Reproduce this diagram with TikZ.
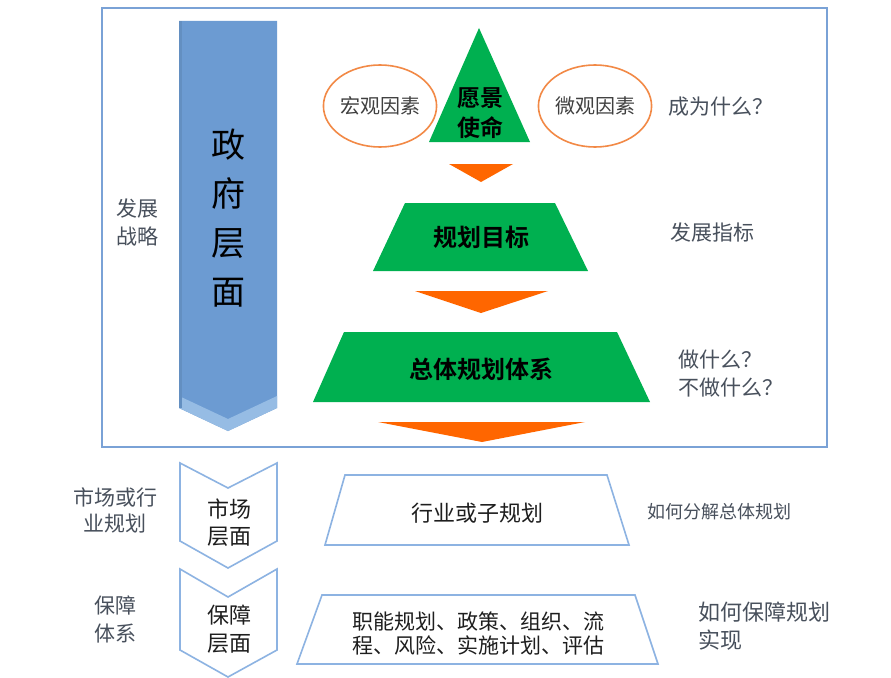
\documentclass[tikz,border=0pt]{standalone}
\usepackage{fontspec}
\newfontfamily\cjk{Noto Sans CJK SC}
\newfontfamily\cjkb{Noto Sans CJK SC Bold}
\definecolor{framebl}{RGB}{122,162,214}
\definecolor{arrowbl}{RGB}{108,155,210}
\definecolor{arrowlt}{RGB}{150,188,228}
\definecolor{lineblue}{RGB}{141,179,226}
\definecolor{pgreen}{RGB}{0,176,80}
\definecolor{porange}{RGB}{255,102,0}
\definecolor{eorange}{RGB}{242,137,70}
\definecolor{sidegray}{RGB}{72,80,92}
\definecolor{dark}{RGB}{30,30,30}
\tikzset{
  frameline/.style={draw=framebl, line width=2.2pt},
  greenshape/.style={fill=pgreen, draw=none},
  orangetri/.style={fill=porange, draw=none},
  outlineshape/.style={draw=lineblue, line width=1.6pt, line join=miter},
  factor/.style={draw=eorange, line width=1.6pt, ellipse, minimum width=106pt, minimum height=82pt, inner sep=0pt, font=\cjk\fontsize{20}{24}\selectfont, text=black!75},
  sidetext/.style={font=\cjk\fontsize{21}{28}\selectfont, text=sidegray, inner sep=0pt, align=left},
  greentext/.style={text=black, inner sep=0pt, align=center},
  boxtext/.style={font=\cjk\fontsize{22}{24}\selectfont, text=dark, inner sep=0pt, align=center},
}
\usetikzlibrary{shapes.geometric}
\begin{document}
\begin{tikzpicture}[x=1pt,y=-1pt]
\useasboundingbox (0,0) rectangle (891,677);
\fill[white] (0,0) rectangle (891,677);
% outer frame
\draw[frameline] (102,8) rectangle (827,447);
% government arrow
\fill[arrowbl] (179,21) -- (277,21) -- (277,408) -- (228,431) -- (179,408) -- cycle;
\fill[arrowlt] (179,396) -- (228,419) -- (277,396) -- (277,408) -- (228,431) -- (179,408) -- cycle;
\fill[arrowbl!92!black] (179,21) rectangle (182,408);
\node[font=\cjk\fontsize{34}{49}\selectfont, text=black, align=center, inner sep=0pt] (gov) at (228,218) {政\\府\\层\\面};
% pyramid
\fill[greenshape] (479,28) -- (530,142) -- (429,142) -- cycle;
\node[greentext, font=\cjkb\fontsize{23}{30}\selectfont] (vision) at (480,113) {愿景\\使命};
\fill[orangetri] (449,164) -- (513,164) -- (481,182) -- cycle;
\fill[greenshape] (405,203) -- (555,203) -- (588,271) -- (373,271) -- cycle;
\node[greentext, font=\cjkb\fontsize{24}{28}\selectfont] (goal) at (481,237) {规划目标};
\fill[orangetri] (415,291) -- (548,291) -- (481,313) -- cycle;
\fill[greenshape] (344,332) -- (617,332) -- (650,402) -- (313,402) -- cycle;
\node[greentext, font=\cjkb\fontsize{24}{28}\selectfont] (system) at (481,369) {总体规划体系};
\fill[orangetri] (378,422) -- (585,422) -- (482,442) -- cycle;
% factors
\node[factor] (macro) at (380,106) {宏观因素};
\node[factor] (micro) at (595,106) {微观因素};
% right texts
\node[sidetext, anchor=west] (become) at (668,107) {成为什么？};
\node[sidetext, anchor=west] (index) at (670,233) {发展指标};
\node[sidetext, anchor=west] (dowhat) at (678,374) {做什么？\\不做什么？};
\node[sidetext, anchor=west, font=\cjk\fontsize{18}{24}\selectfont] (split) at (647,512) {如何分解总体规划};
\node[sidetext, anchor=west, font=\cjk\fontsize{22}{28}\selectfont] (ensure) at (698,626) {如何保障规划\\实现};
% left texts
\node[sidetext, align=center] (strategy) at (137,222) {发展\\战略};
\node[sidetext, align=center, font=\cjk\fontsize{21}{26}\selectfont] (industry) at (115,510) {市场或行\\业规划};
\node[sidetext, align=center] (support) at (115,619) {保障\\体系};
% lower chevrons
\draw[outlineshape] (180,463) -- (228,488) -- (277,463) -- (277,541) -- (228,568) -- (180,541) -- cycle;
\node[boxtext, font=\cjk\fontsize{22}{27}\selectfont] (market) at (229,523) {市场\\层面};
\draw[outlineshape] (180,569) -- (228,597) -- (277,569) -- (277,650) -- (228,677) -- (180,650) -- cycle;
\node[boxtext, font=\cjk\fontsize{22}{28}\selectfont] (guarantee) at (229,629) {保障\\层面};
% lower trapezoids
\draw[outlineshape] (345,475) -- (607,475) -- (629,545) -- (325,545) -- cycle;
\node[boxtext] (subplan) at (477,513) {行业或子规划};
\draw[outlineshape] (322,595) -- (635,595) -- (658,664) -- (297,664) -- cycle;
\node[boxtext, font=\cjk\fontsize{21}{24}\selectfont] (functions) at (478,633) {职能规划、政策、组织、流\\程、风险、实施计划、评估};
\end{tikzpicture}
\end{document}
